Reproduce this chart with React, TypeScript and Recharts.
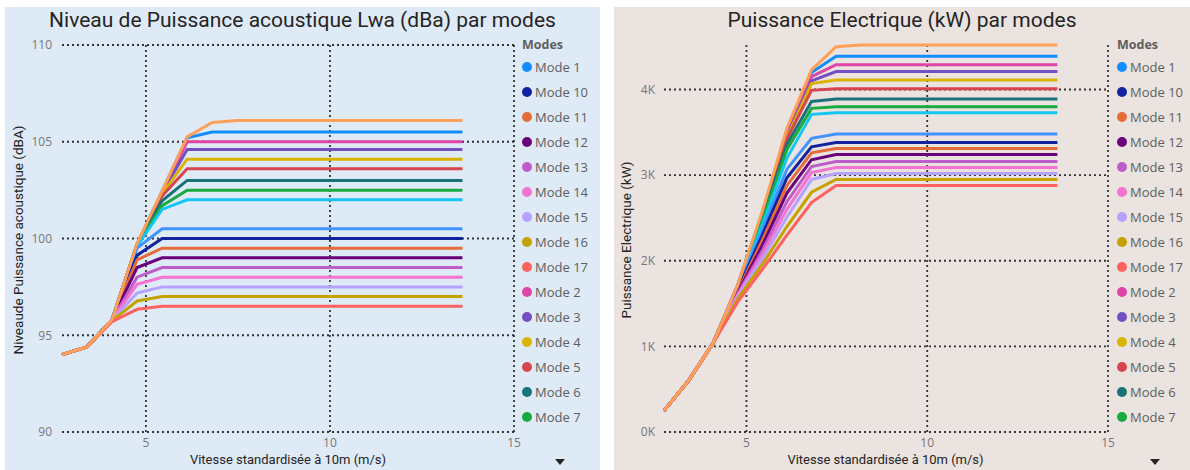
import { LineChart, Line, XAxis, YAxis, ReferenceLine } from "recharts";

// wind speed at 10m (m/s)
const speeds = [2.72, 3.4, 4.08, 4.76, 5.44, 6.12, 6.8, 7.48, 8.16, 8.84, 9.52, 10.2, 10.88, 11.56, 12.24, 12.92, 13.6];

const modes = [
  "Mode 1", "Mode 2", "Mode 3", "Mode 4", "Mode 5", "Mode 6", "Mode 7", "Mode 8", "Mode 9",
  "Mode 10", "Mode 11", "Mode 12", "Mode 13", "Mode 14", "Mode 15", "Mode 16", "Mode 17", "Mode 18",
];
const modeColors = [
  "#118DFF", "#E044A7", "#744EC2", "#D9B300", "#D64550", "#197278", "#1AAB40", "#15C6F4", "#4092FF",
  "#12239E", "#E66C37", "#6B007B", "#BE5DC9", "#F472D0", "#B5A1FF", "#C4A200", "#FD625E", "#FFA058",
];
// what the legend shows before it scrolls
const legendModes = [
  "Mode 1", "Mode 10", "Mode 11", "Mode 12", "Mode 13", "Mode 14", "Mode 15", "Mode 16",
  "Mode 17", "Mode 2", "Mode 3", "Mode 4", "Mode 5", "Mode 6", "Mode 7",
];

// Lwa (dBA), one row per mode, same order as modes
const lwa = [
  [94.0, 94.4, 95.8, 99.7, 102.45, 105.2, 105.5, 105.5, 105.5, 105.5, 105.5, 105.5, 105.5, 105.5, 105.5, 105.5, 105.5],
  [94.0, 94.4, 95.8, 99.7, 102.4, 105.0, 105.0, 105.0, 105.0, 105.0, 105.0, 105.0, 105.0, 105.0, 105.0, 105.0, 105.0],
  [94.0, 94.4, 95.8, 99.7, 102.35, 104.6, 104.6, 104.6, 104.6, 104.6, 104.6, 104.6, 104.6, 104.6, 104.6, 104.6, 104.6],
  [94.0, 94.4, 95.8, 99.7, 102.3, 104.1, 104.1, 104.1, 104.1, 104.1, 104.1, 104.1, 104.1, 104.1, 104.1, 104.1, 104.1],
  [94.0, 94.4, 95.8, 99.7, 102.2, 103.6, 103.6, 103.6, 103.6, 103.6, 103.6, 103.6, 103.6, 103.6, 103.6, 103.6, 103.6],
  [94.0, 94.4, 95.8, 99.7, 101.95, 103.0, 103.0, 103.0, 103.0, 103.0, 103.0, 103.0, 103.0, 103.0, 103.0, 103.0, 103.0],
  [94.0, 94.4, 95.8, 99.65, 101.7, 102.5, 102.5, 102.5, 102.5, 102.5, 102.5, 102.5, 102.5, 102.5, 102.5, 102.5, 102.5],
  [94.0, 94.4, 95.8, 99.6, 101.5, 102.0, 102.0, 102.0, 102.0, 102.0, 102.0, 102.0, 102.0, 102.0, 102.0, 102.0, 102.0],
  [94.0, 94.4, 95.8, 99.5, 100.5, 100.5, 100.5, 100.5, 100.5, 100.5, 100.5, 100.5, 100.5, 100.5, 100.5, 100.5, 100.5],
  [94.0, 94.4, 95.8, 99.13, 100.0, 100.0, 100.0, 100.0, 100.0, 100.0, 100.0, 100.0, 100.0, 100.0, 100.0, 100.0, 100.0],
  [94.0, 94.4, 95.8, 98.9, 99.5, 99.5, 99.5, 99.5, 99.5, 99.5, 99.5, 99.5, 99.5, 99.5, 99.5, 99.5, 99.5],
  [94.0, 94.4, 95.8, 98.5, 99.0, 99.0, 99.0, 99.0, 99.0, 99.0, 99.0, 99.0, 99.0, 99.0, 99.0, 99.0, 99.0],
  [94.0, 94.4, 95.8, 98.0, 98.5, 98.5, 98.5, 98.5, 98.5, 98.5, 98.5, 98.5, 98.5, 98.5, 98.5, 98.5, 98.5],
  [94.0, 94.4, 95.8, 97.63, 98.0, 98.0, 98.0, 98.0, 98.0, 98.0, 98.0, 98.0, 98.0, 98.0, 98.0, 98.0, 98.0],
  [94.0, 94.4, 95.8, 97.18, 97.5, 97.5, 97.5, 97.5, 97.5, 97.5, 97.5, 97.5, 97.5, 97.5, 97.5, 97.5, 97.5],
  [94.0, 94.4, 95.75, 96.77, 97.0, 97.0, 97.0, 97.0, 97.0, 97.0, 97.0, 97.0, 97.0, 97.0, 97.0, 97.0, 97.0],
  [94.0, 94.4, 95.7, 96.34, 96.5, 96.5, 96.5, 96.5, 96.5, 96.5, 96.5, 96.5, 96.5, 96.5, 96.5, 96.5, 96.5],
  [94.0, 94.4, 95.8, 99.75, 102.45, 105.25, 106.0, 106.1, 106.1, 106.1, 106.1, 106.1, 106.1, 106.1, 106.1, 106.1, 106.1],
];

// electrical power (kW), same order as modes
const power = [
  [250, 600, 1040, 1720, 2560, 3500, 4200, 4390, 4390, 4390, 4390, 4390, 4390, 4390, 4390, 4390, 4390],
  [250, 600, 1040, 1715, 2550, 3480, 4150, 4290, 4290, 4290, 4290, 4290, 4290, 4290, 4290, 4290, 4290],
  [250, 600, 1040, 1710, 2540, 3460, 4100, 4210, 4210, 4210, 4210, 4210, 4210, 4210, 4210, 4210, 4210],
  [250, 600, 1040, 1705, 2530, 3440, 4070, 4110, 4110, 4110, 4110, 4110, 4110, 4110, 4110, 4110, 4110],
  [250, 600, 1040, 1700, 2520, 3420, 3990, 4010, 4010, 4010, 4010, 4010, 4010, 4010, 4010, 4010, 4010],
  [250, 600, 1040, 1695, 2500, 3360, 3860, 3890, 3890, 3890, 3890, 3890, 3890, 3890, 3890, 3890, 3890],
  [250, 600, 1040, 1690, 2470, 3300, 3780, 3800, 3800, 3800, 3800, 3800, 3800, 3800, 3800, 3800, 3800],
  [250, 600, 1040, 1680, 2420, 3200, 3710, 3730, 3730, 3730, 3730, 3730, 3730, 3730, 3730, 3730, 3730],
  [250, 600, 1040, 1670, 2360, 3070, 3430, 3480, 3480, 3480, 3480, 3480, 3480, 3480, 3480, 3480, 3480],
  [250, 600, 1040, 1660, 2300, 2970, 3330, 3380, 3380, 3380, 3380, 3380, 3380, 3380, 3380, 3380, 3380],
  [250, 600, 1040, 1645, 2240, 2880, 3260, 3310, 3310, 3310, 3310, 3310, 3310, 3310, 3310, 3310, 3310],
  [250, 600, 1040, 1630, 2180, 2790, 3180, 3240, 3240, 3240, 3240, 3240, 3240, 3240, 3240, 3240, 3240],
  [250, 600, 1040, 1615, 2120, 2690, 3100, 3160, 3160, 3160, 3160, 3160, 3160, 3160, 3160, 3160, 3160],
  [250, 600, 1040, 1600, 2070, 2600, 3030, 3090, 3090, 3090, 3090, 3090, 3090, 3090, 3090, 3090, 3090],
  [250, 600, 1040, 1585, 2020, 2510, 2950, 3020, 3020, 3020, 3020, 3020, 3020, 3020, 3020, 3020, 3020],
  [250, 600, 1040, 1560, 1960, 2400, 2800, 2950, 2950, 2950, 2950, 2950, 2950, 2950, 2950, 2950, 2950],
  [250, 600, 1040, 1520, 1900, 2300, 2680, 2880, 2880, 2880, 2880, 2880, 2880, 2880, 2880, 2880, 2880],
  [250, 600, 1040, 1720, 2580, 3550, 4230, 4500, 4520, 4520, 4520, 4520, 4520, 4520, 4520, 4520, 4520],
];

const speedTicks = [5, 10, 15];
const lwaTicks = [90, 95, 100, 105, 110];
const powerTicks = [0, 1000, 2000, 3000, 4000];

const UI = "'Open Sans', 'Noto Sans', sans-serif";
const DIN = "Roboto, 'Noto Sans', sans-serif";

function toRows(values: number[][]) {
  return speeds.map((s, i) => {
    const r: Record<string, number> = { speed: s };
    modes.forEach((m, k) => {
      r[m] = values[k][i];
    });
    return r;
  });
}

function ModeLegend({ left }: { left: number }) {
  return (
    <div style={{ position: "absolute", left, top: 36, fontFamily: UI }}>
      <div style={{ fontSize: 12.5, fontWeight: 700, color: "#605E5C", height: 20, lineHeight: "18px" }}>Modes</div>
      {legendModes.map((m, i) => (
        <div
          key={m}
          style={{
            position: "absolute",
            top: 22 + i * 25,
            display: "flex",
            alignItems: "center",
            whiteSpace: "nowrap",
            fontSize: 13,
            color: "#605E5C",
            height: 18,
          }}
        >
          <span
            style={{
              width: 10,
              height: 10,
              borderRadius: 5,
              background: modeColors[modes.indexOf(m)],
              marginRight: 3,
            }}
          />
          {m}
        </div>
      ))}
    </div>
  );
}

function Caret({ left }: { left: number }) {
  return (
    <div
      style={{
        position: "absolute",
        left,
        top: 459,
        width: 0,
        height: 0,
        borderLeft: "5px solid transparent",
        borderRight: "5px solid transparent",
        borderTop: "6px solid #252423",
      }}
    />
  );
}

const gridStyle = { stroke: "#333", strokeDasharray: "2 3", strokeWidth: 1.8 };
const tickStyle = { fill: "#777", fontSize: 12, fontFamily: UI };

function series() {
  return modes.map((m, k) => (
    <Line
      key={m}
      dataKey={m}
      stroke={modeColors[k]}
      strokeWidth={3}
      dot={false}
      activeDot={false}
      type="linear"
      isAnimationActive={false}
    />
  ));
}

function grid(yTicks: number[]) {
  return [
    ...yTicks.map((t) => <ReferenceLine key={`y${t}`} y={t} {...gridStyle} />),
    ...speedTicks.map((t) => <ReferenceLine key={`x${t}`} x={t} {...gridStyle} />),
  ];
}

const speedAxis = (
  <XAxis
    dataKey="speed"
    type="number"
    domain={[2.72, 15]}
    ticks={speedTicks}
    axisLine={false}
    tickLine={false}
    tickSize={0}
    tickMargin={6}
    height={20}
    tick={tickStyle}
  />
);

export default function App() {
  const lwaRows = toRows(lwa);
  const powerRows = toRows(power);
  const xTitle = "Vitesse standardisée à 10m (m/s)";
  const titleStyle = { position: "absolute" as const, top: 8, textAlign: "center" as const, fontFamily: DIN, fontSize: 21, color: "#252423" };
  const yTitleStyle = {
    position: "absolute" as const,
    top: 240,
    transform: "translate(-50%, -50%) rotate(-90deg)",
    whiteSpace: "nowrap" as const,
    fontFamily: DIN,
    fontSize: 13.5,
    color: "#252423",
  };
  const xTitleStyle = { position: "absolute" as const, top: 452, textAlign: "center" as const, fontFamily: DIN, fontSize: 13, color: "#252423" };
  return (
    <div style={{ position: "absolute", left: 0, top: 0, width: 1190, height: 470, background: "#fff", overflow: "hidden" }}>
      <div style={{ position: "absolute", left: 5, top: 7, width: 595, height: 463, background: "#DFEAF7" }} />
      <div style={{ position: "absolute", left: 614, top: 7, width: 576, height: 463, background: "#EAE3E0" }} />

      <div style={{ ...titleStyle, left: 5, width: 595 }}>Niveau de Puissance acoustique Lwa (dBa) par modes</div>
      <div style={{ ...titleStyle, left: 614, width: 576 }}>Puissance Electrique (kW) par modes</div>

      <div style={{ position: "absolute", left: 0, top: 0 }}>
        <LineChart width={600} height={470} data={lwaRows} margin={{ top: 45, right: 86, bottom: 18, left: 0 }}>
          {speedAxis}
          <YAxis
            type="number"
            domain={[90, 110]}
            ticks={lwaTicks}
            axisLine={false}
            tickLine={false}
            tickSize={0}
            tickMargin={10}
            width={62}
            tick={tickStyle}
          />
          {grid(lwaTicks)}
          {series()}
        </LineChart>
      </div>

      <div style={{ position: "absolute", left: 600, top: 0 }}>
        <LineChart width={590} height={470} data={powerRows} margin={{ top: 45, right: 82, bottom: 18, left: 0 }}>
          {speedAxis}
          <YAxis
            type="number"
            domain={[0, 4520]}
            ticks={powerTicks}
            tickFormatter={(v: number) => `${v / 1000}K`}
            axisLine={false}
            tickLine={false}
            tickSize={0}
            tickMargin={9}
            width={64}
            tick={tickStyle}
          />
          {grid(powerTicks)}
          {series()}
        </LineChart>
      </div>

      <div style={{ ...xTitleStyle, left: 62, width: 452 }}>{xTitle}</div>
      <div style={{ ...xTitleStyle, left: 663, width: 445 }}>{xTitle}</div>
      <div style={{ ...yTitleStyle, left: 18 }}>Niveaude Puissance acoustique (dBA)</div>
      <div style={{ ...yTitleStyle, left: 626 }}>Puissance Electrique (kW)</div>

      <ModeLegend left={522} />
      <ModeLegend left={1117} />
      <Caret left={555} />
      <Caret left={1150} />
    </div>
  );
}
